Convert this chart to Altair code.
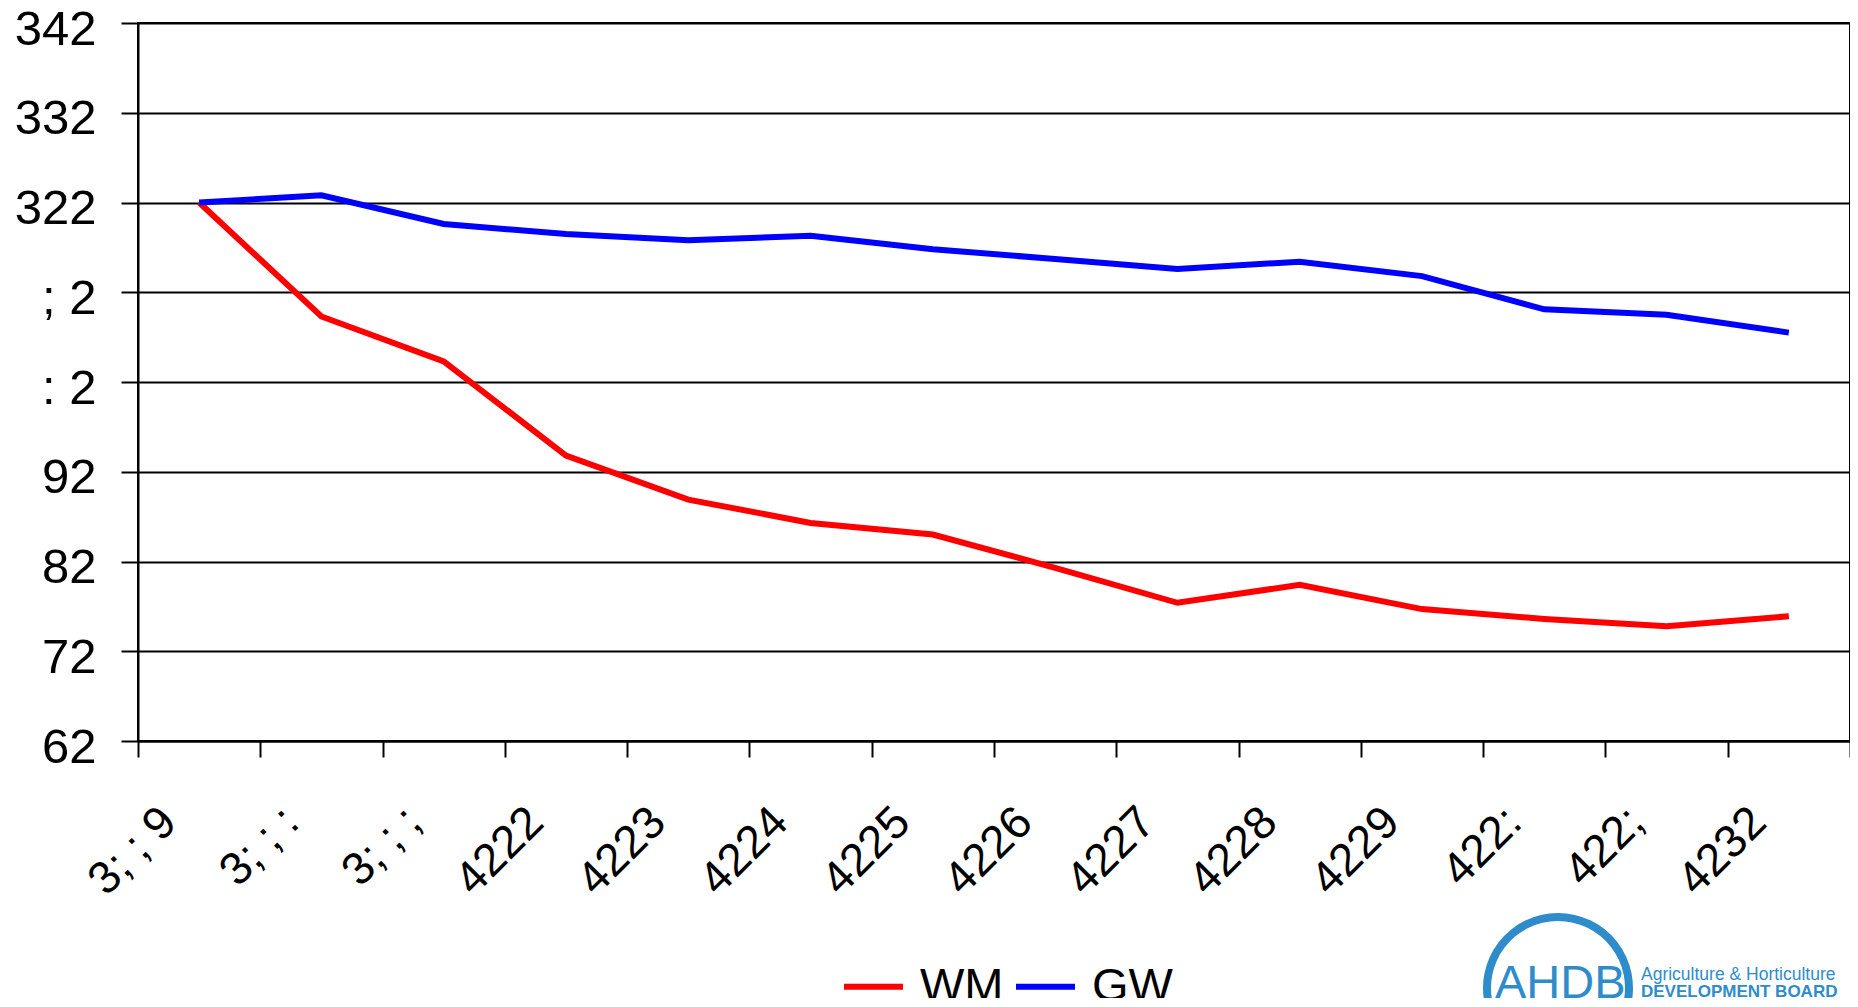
import altair as alt
import pandas as pd

NB = "\u00a0"
# Category labels as shown in the reference (font-garbled glyphs in digit-wide slots)
years = ["3;" + NB + ";" + NB + "9", "3;" + NB + ";" + NB + ":" + NB, "3;" + NB + ";" + NB + ";" + NB,
         "4222", "4223", "4224", "4225", "4226", "4227", "4228", "4229",
         "422:" + NB, "422;" + NB, "4232"]
series_names = ["WM", "GW"]
series_colors = ["#FF0000", "#0000FF"]

wm_values = [100, 87.3, 82.3, 71.8, 66.9, 64.3, 63.0, 59.3, 55.4, 57.4, 54.7, 53.6, 52.8, 53.9]
gw_values = [100, 100.8, 97.6, 96.5, 95.8, 96.3, 94.8, 93.7, 92.6, 93.4, 91.8, 88.1, 87.5, 85.5]

y_ticks = [40, 50, 60, 70, 80, 90, 100, 110, 120]
y_tick_labels = ["62", "72", "82", "92", ":" + NB + "2", ";" + NB + "2", "322", "332", "342"]

FONT = "Liberation Sans"

rows = []
for i, lab in enumerate(years):
    rows.append({"pos": i + 0.5, "label": lab, "series": series_names[0], "value": wm_values[i]})
    rows.append({"pos": i + 0.5, "label": lab, "series": series_names[1], "value": gw_values[i]})
df = pd.DataFrame(rows)

x_label_arr = "[" + ",".join("'" + s + "'" for s in years) + "]"
x_label_expr = f"datum.value < {len(years)} ? {x_label_arr}[datum.value] : ''"
y_label_arr = "[" + ",".join("'" + s + "'" for s in y_tick_labels) + "]"
y_label_expr = f"{y_label_arr}[round((datum.value - 40) / 10)]"

x_scale = alt.Scale(domain=[0, len(years)], nice=False, zero=False)
y_scale = alt.Scale(domain=[40, 120], nice=False, zero=False)

x_axis = alt.Axis(
    values=list(range(len(years) + 1)), labelExpr=x_label_expr, title=None,
    labelAngle=315, labelAlign="right", labelBaseline="top",
    labelOffset=15, labelPadding=42, labelOverlap=False, labelFlush=False, labelBound=False,
    labelFont=FONT, labelFontSize=46, labelColor="black",
    tickSize=16, tickWidth=2, tickColor="black",
    domainColor="black", domainWidth=2, grid=False,
)
y_axis = alt.Axis(
    values=y_ticks, labelExpr=y_label_expr, title=None,
    labelPadding=25, labelOffset=6, labelFont=FONT, labelFontSize=49, labelColor="black",
    tickSize=17, tickWidth=2, tickColor="black",
    domainColor="black", domainWidth=2,
    grid=True, gridColor="black", gridWidth=2,
    labelOverlap=False, labelFlush=False,
)

lines = alt.Chart(df).mark_line(strokeWidth=6).encode(
    x=alt.X("pos:Q", scale=x_scale, axis=x_axis),
    y=alt.Y("value:Q", scale=y_scale, axis=y_axis),
    color=alt.Color(
        "series:N",
        scale=alt.Scale(domain=series_names, range=series_colors),
        legend=alt.Legend(
            orient="none", legendX=703, legendY=931, direction="horizontal",
            title=None, symbolType="stroke", symbolStrokeWidth=6, symbolSize=3481,
            labelFont=FONT, labelFontSize=47, labelColor="black", labelOffset=14,
            columnPadding=0, padding=0,
        ),
    ),
    order="pos:Q",
)

logo_color = "#2F8CCB"
one = pd.DataFrame({"k": [0]})
logo_arc = alt.Chart(one).mark_arc(
    theta=4.45, theta2=8.11, radius=75, radius2=67, color=logo_color
).encode(x=alt.value(1420), y=alt.value(965))
logo_main = alt.Chart(one).mark_text(
    text="AHDB", font=FONT, fontSize=47, align="left", baseline="alphabetic", color=logo_color
).encode(x=alt.value(1357), y=alt.value(975))
logo_l1 = alt.Chart(one).mark_text(
    text="Agriculture & Horticulture", font=FONT, fontSize=17.5, align="left",
    baseline="alphabetic", color=logo_color
).encode(x=alt.value(1503), y=alt.value(957))
logo_l2 = alt.Chart(one).mark_text(
    text="DEVELOPMENT BOARD", font=FONT, fontSize=17, fontWeight="bold", align="left",
    baseline="alphabetic", color=logo_color
).encode(x=alt.value(1503), y=alt.value(974))

chart = alt.layer(lines, logo_arc, logo_main, logo_l1, logo_l2).properties(
    width=1712, height=718,
    autosize=alt.AutoSizeParams(type="none"),
    padding={"left": 130, "top": 15, "right": 0, "bottom": 257},
).configure_view(stroke="black", strokeWidth=2)

chart.save("out.html", embed_options={"renderer": "svg", "actions": False})
